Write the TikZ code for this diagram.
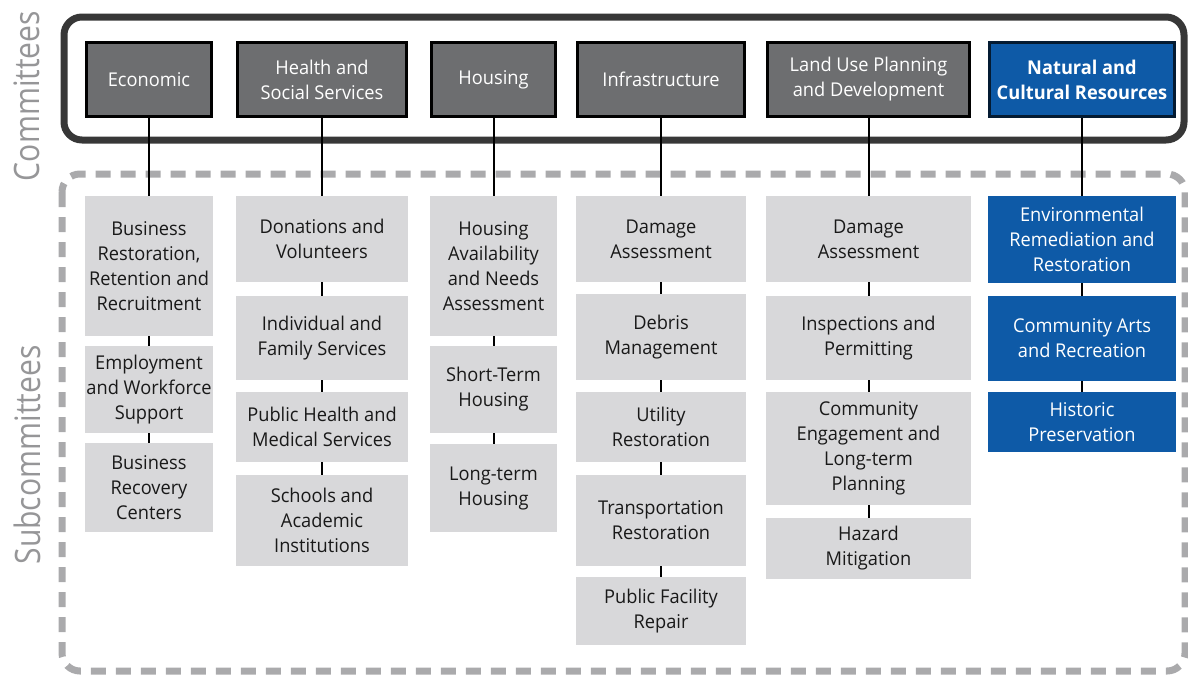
\documentclass[tikz,border=0pt]{standalone}
\usepackage{fontspec}
\setmainfont{Open Sans}[FakeStretch=0.96]
\newfontfamily\sidefont{Open Sans}[FakeStretch=0.86]
\usetikzlibrary{positioning}
\definecolor{cmtgray}{RGB}{109,110,112}
\definecolor{subgray}{RGB}{216,216,218}
\definecolor{natblue}{RGB}{14,90,167}
\definecolor{framegray}{RGB}{55,55,55}
\definecolor{dashgray}{RGB}{170,170,172}
\definecolor{labelgray}{RGB}{150,150,152}
\definecolor{subtext}{RGB}{25,25,25}
\newcommand{\boxfont}{\fontsize{19}{25}\selectfont}

\begin{document}
\begin{tikzpicture}[
  x=1pt,y=-1pt,
  committee/.style={rectangle,draw=black,line width=2.5pt,fill=cmtgray,
    text=white,align=center,font=\boxfont,inner sep=0pt,minimum height=74pt},
  natcommittee/.style={committee,fill=natblue,draw=black!70!natblue,
    font=\boxfont\bfseries},
  sub/.style={rectangle,fill=subgray,text=subtext,align=center,
    font=\boxfont,inner sep=0pt},
  natsub/.style={sub,fill=natblue,text=white},
  ecocol/.style={minimum width=128pt},
  heacol/.style={minimum width=172pt},
  houcol/.style={minimum width=127pt},
  infcol/.style={minimum width=170pt},
  lancol/.style={minimum width=205pt},
  natcol/.style={minimum width=188pt},
  link/.style={line width=2pt,black},
  sidelabel/.style={rotate=90,text=labelgray,font=\sidefont\fontsize{35}{35}\selectfont},
]
  \useasboundingbox (0,0) rectangle (1188,675);

  % frames
  \draw[framegray,line width=7pt,rounded corners=18pt] (64,17) rectangle (1184,140);
  \draw[dashgray,line width=7pt,rounded corners=18pt,dash pattern=on 15pt off 10pt]
    (62,174) rectangle (1185,671);
  \node[sidelabel] (cmtlabel) at (27,96)  {Committees};
  \node[sidelabel] (sublabel) at (27,455) {Subcommittees};

  % committees
  \node[committee,ecocol,minimum width=125pt] (eco) at (149,79.5)   {Economic};
  \node[committee,heacol,minimum width=169pt] (hea) at (322,79.5)   {Health and\\Social Services};
  \node[committee,houcol,minimum width=124pt] (hou) at (493.5,79.5) {Housing};
  \node[committee,infcol,minimum width=167pt] (inf) at (661,79.5)   {Infrastructure};
  \node[committee,lancol,minimum width=202pt] (lan) at (868.5,79.5) {Land Use Planning\\and Development};
  \node[natcommittee,natcol,minimum width=185pt] (nat) at (1082,79.5) {Natural and\\Cultural Resources};

  % subcommittees
  \node[sub,ecocol,minimum height=140pt] (eco1) at (149,266)   {Business\\Restoration,\\Retention and\\Recruitment};
  \node[sub,ecocol,minimum height=87pt]  (eco2) at (149,389.5) {Employment\\and Workforce\\Support};
  \node[sub,ecocol,minimum height=89pt]  (eco3) at (149,487.5) {Business\\Recovery\\Centers};

  \node[sub,heacol,minimum height=86pt] (hea1) at (322,239)   {Donations and\\Volunteers};
  \node[sub,heacol,minimum height=84pt] (hea2) at (322,338)   {Individual and\\Family Services};
  \node[sub,heacol,minimum height=70pt] (hea3) at (322,427)   {Public Health and\\Medical Services};
  \node[sub,heacol,minimum height=91pt] (hea4) at (322,520.5) {Schools and\\Academic\\Institutions};

  \node[sub,houcol,minimum height=140pt] (hou1) at (493.5,266)   {Housing\\Availability\\and Needs\\Assessment};
  \node[sub,houcol,minimum height=87pt]  (hou2) at (493.5,389.5) {Short-Term\\Housing};
  \node[sub,houcol,minimum height=88pt]  (hou3) at (493.5,488)   {Long-term\\Housing};

  \node[sub,infcol,minimum height=86pt] (inf1) at (661,239)   {Damage\\Assessment};
  \node[sub,infcol,minimum height=86pt] (inf2) at (661,337)   {Debris\\Management};
  \node[sub,infcol,minimum height=70pt] (inf3) at (661,427)   {Utility\\Restoration};
  \node[sub,infcol,minimum height=91pt] (inf4) at (661,520.5) {Transportation\\Restoration};
  \node[sub,infcol,minimum height=68pt] (inf5) at (661,611)   {Public Facility\\Repair};

  \node[sub,lancol,minimum height=86pt]  (lan1) at (868.5,239)   {Damage\\Assessment};
  \node[sub,lancol,minimum height=84pt]  (lan2) at (868.5,338)   {Inspections and\\Permitting};
  \node[sub,lancol,minimum height=113pt] (lan3) at (868.5,448.5) {Community\\Engagement and\\Long-term\\Planning};
  \node[sub,lancol,minimum height=61pt]  (lan4) at (868.5,548.5) {Hazard\\Mitigation};

  \node[natsub,natcol,minimum height=87pt] (nat1) at (1082,239.5) {Environmental\\Remediation and\\Restoration};
  \node[natsub,natcol,minimum height=85pt] (nat2) at (1082,338.5) {Community Arts\\and Recreation};
  \node[natsub,natcol,minimum height=60pt] (nat3) at (1082,422)   {Historic\\Preservation};

  % connectors
  \draw[link] (eco) -- (eco1);
  \draw[link] (eco1) -- (eco2);
  \draw[link] (eco2) -- (eco3);
  \draw[link] (hea) -- (hea1);
  \draw[link] (hea1) -- (hea2);
  \draw[link] (hea2) -- (hea3);
  \draw[link] (hea3) -- (hea4);
  \draw[link] (hou) -- (hou1);
  \draw[link] (hou1) -- (hou2);
  \draw[link] (hou2) -- (hou3);
  \draw[link] (inf) -- (inf1);
  \draw[link] (inf1) -- (inf2);
  \draw[link] (inf2) -- (inf3);
  \draw[link] (inf3) -- (inf4);
  \draw[link] (inf4) -- (inf5);
  \draw[link] (lan) -- (lan1);
  \draw[link] (lan1) -- (lan2);
  \draw[link] (lan2) -- (lan3);
  \draw[link] (lan3) -- (lan4);
  \draw[link] (nat) -- (nat1);
  \draw[link] (nat1) -- (nat2);
  \draw[link] (nat2) -- (nat3);
\end{tikzpicture}
\end{document}
